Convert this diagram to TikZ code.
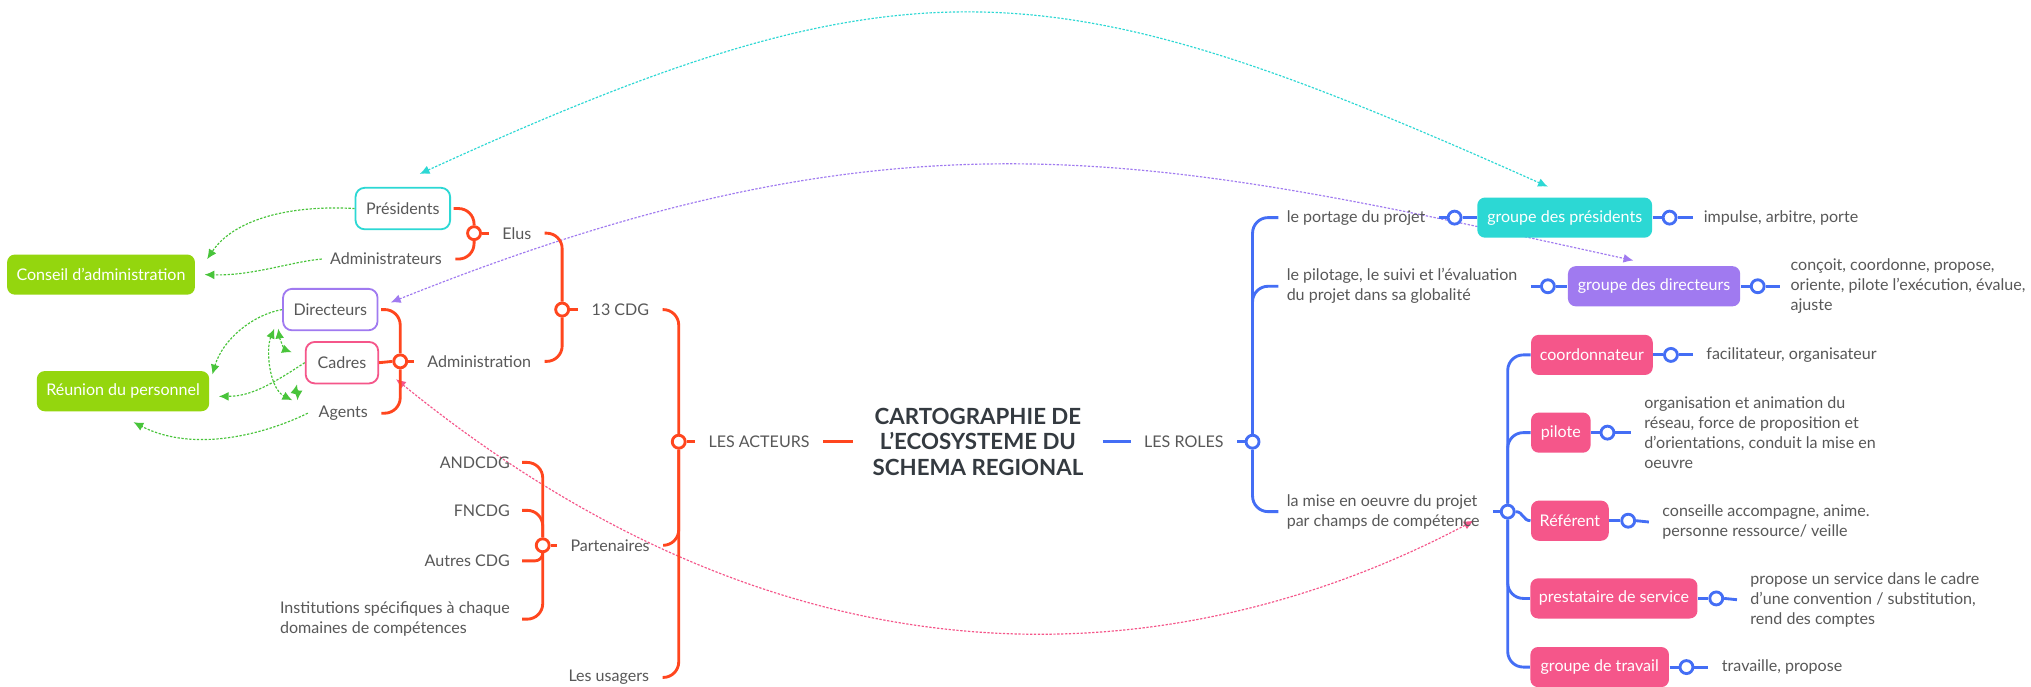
\documentclass[tikz,border=0pt]{standalone}
\usepackage{fontspec}
\setmainfont{Lato}
\usetikzlibrary{arrows.meta,backgrounds}

\definecolor{acteurs}{RGB}{255,70,30}
\definecolor{roles}{RGB}{68,110,245}
\definecolor{turquoise}{RGB}{44,216,212}
\definecolor{lavande}{RGB}{160,122,240}
\definecolor{framboise}{RGB}{245,86,138}
\definecolor{anis}{RGB}{148,214,14}
\definecolor{prairie}{RGB}{72,196,58}
\definecolor{gris}{RGB}{88,88,88}
\definecolor{ardoise}{RGB}{52,58,64}

\begin{document}
\begin{tikzpicture}[x=0.5pt, y=-0.5pt,
        lbl/.style={font=\fontsize{6.2}{7.75}\selectfont, text=gris, inner sep=1pt},
        lbls/.style={lbl, align=left},
        solidbox/.style={lbl, text=white, rounded corners=3pt, minimum height=15.5pt, inner xsep=0pt},
        outlinebox/.style={lbl, draw, fill=white, line width=0.7pt, rounded corners=3.5pt, minimum height=16pt, inner xsep=0pt},
        knob/.style={circle, draw, fill=white, line width=1.1pt, inner sep=0pt, minimum size=5pt},
        branch/.style={line width=1.1pt, rounded corners=6pt},
        rel/.style={line width=0.45pt, dash pattern=on 0.9pt off 0.6pt},
        >={Latex[length=3.8pt,width=3.4pt]},
    ]
    \path[use as bounding box] (0,0) rectangle (1568,530);

    \node[font=\bfseries\fontsize{8.6}{9.75}\selectfont, text=ardoise, align=center] (titre) at (755,341) {CARTOGRAPHIE DE\\L'ECOSYSTEME DU\\SCHEMA REGIONAL};

    % les acteurs
    \node[lbl] (acteurs) at (586,341) {LES ACTEURS};
    \node[knob, draw=acteurs] (kActeurs) at (524,341) {};
    \node[lbl] (cdg) at (479,239) {13 CDG};
    \node[knob, draw=acteurs] (kCdg) at (434,239) {};
    \node[lbl] (elus) at (399,180) {Elus};
    \node[knob, draw=acteurs] (kElus) at (366,180) {};
    \node[outlinebox, draw=turquoise, minimum width=36.5pt] (presidents) at (311,161) {Présidents};
    \node[lbl] (administrateurs) at (298,200) {Administrateurs};
    \node[lbl] (administration) at (370,279) {Administration};
    \node[knob, draw=acteurs] (kAdm) at (309,279) {};
    \node[outlinebox, draw=lavande, minimum width=36.5pt] (directeurs) at (255,239) {Directeurs};
    \node[outlinebox, draw=framboise, minimum width=28pt] (cadres) at (264,280) {Cadres};
    \node[lbl] (agents) at (265,319) {Agents};
    \node[solidbox, fill=anis, minimum width=72.5pt] (conseil) at (78,212) {Conseil d'administration};
    \node[solidbox, fill=anis, minimum width=66.5pt] (reunion) at (95,302) {Réunion du personnel};
    \node[lbl] (partenaires) at (471,421) {Partenaires};
    \node[knob, draw=acteurs] (kPart) at (419,421) {};
    \node[lbl, anchor=east] (andcdg) at (396,357) {ANDCDG};
    \node[lbl, anchor=east] (fncdg) at (396,394) {FNCDG};
    \node[lbl, anchor=east] (autres) at (396,433) {Autres CDG};
    \node[lbls, anchor=east] (institutions) at (396,478) {Institutions spécifiques à chaque\\domaines de compétences};
    \node[lbl] (usagers) at (470,523) {Les usagers};

    % les roles
    \node[lbl] (roles) at (914,341) {LES ROLES};
    \node[knob, draw=roles] (kRoles) at (967,341) {};
    \node[lbl, anchor=west] (portage) at (991,168) {le portage du projet};
    \node[knob, draw=roles] (kPortage) at (1123,168) {};
    \node[solidbox, fill=turquoise, minimum width=67.5pt] (grPres) at (1208,168) {groupe des présidents};
    \node[knob, draw=roles] (kGrPres) at (1289,168) {};
    \node[lbl, anchor=west] (impulse) at (1313,168) {impulse, arbitre, porte};
    \node[lbls, anchor=west] (pilotage) at (991,221) {le pilotage, le suivi et l'évaluation\\du projet dans sa globalité};
    \node[knob, draw=roles] (kPilotage) at (1195,221) {};
    \node[solidbox, fill=lavande, minimum width=66.5pt] (grDir) at (1277,221) {groupe des directeurs};
    \node[knob, draw=roles] (kGrDir) at (1357,221) {};
    \node[lbls, anchor=west] (concoit) at (1380,221) {conçoit, coordonne, propose,\\oriente, pilote l'exécution, évalue,\\ajuste};
    \node[lbls, anchor=west] (mise) at (991,395) {la mise en oeuvre du projet\\par champs de compétence};
    \node[knob, draw=roles] (kMise) at (1164,395) {};
    \node[solidbox, fill=framboise, minimum width=47pt] (coord) at (1229,274) {coordonnateur};
    \node[knob, draw=roles] (kCoord) at (1290,274) {};
    \node[lbl, anchor=west] (facil) at (1315,274) {facilitateur, organisateur};
    \node[solidbox, fill=framboise, minimum width=23pt] (pilote) at (1205,334) {pilote};
    \node[knob, draw=roles] (kPilote) at (1241,334) {};
    \node[lbls, anchor=west] (orga) at (1267,334) {organisation et animation du\\réseau, force de proposition et\\d'orientations, conduit la mise en\\oeuvre};
    \node[solidbox, fill=framboise, minimum width=30pt] (referent) at (1212,402) {Référent};
    \node[knob, draw=roles] (kRef) at (1257,402) {};
    \node[lbls, anchor=west] (conseille) at (1281,403) {conseille accompagne, anime.\\personne ressource/ veille};
    \node[solidbox, fill=framboise, minimum width=64.5pt] (presta) at (1246,462) {prestataire de service};
    \node[knob, draw=roles] (kPresta) at (1325,462) {};
    \node[lbls, anchor=west] (propose) at (1349,463) {propose un service dans le cadre\\d'une convention / substitution,\\rend des comptes};
    \node[solidbox, fill=framboise, minimum width=53.5pt] (grTrav) at (1235,515) {groupe de travail};
    \node[knob, draw=roles] (kTrav) at (1302,515) {};
    \node[lbl, anchor=west] (travaille) at (1327,515) {travaille, propose};

    \draw[branch, acteurs] ([xshift=4pt]acteurs.east) -- ([xshift=-4pt]titre.west);
    \draw[branch, acteurs] (kActeurs.east) -- ([xshift=-4pt]acteurs.west);
    \draw[branch, acteurs] (kActeurs.north) |- ([xshift=4pt]cdg.east);
    \draw[branch, acteurs] (kActeurs.south) |- ([xshift=4pt]partenaires.east);
    \draw[branch, acteurs] (kActeurs.south) |- ([xshift=4pt]usagers.east);
    \draw[branch, acteurs] (kCdg.east) -- ([xshift=-4pt]cdg.west);
    \draw[branch, acteurs] (kCdg.north) |- ([xshift=4pt]elus.east);
    \draw[branch, acteurs] (kCdg.south) |- ([xshift=4pt]administration.east);
    \draw[branch, acteurs] (kElus.east) -- ([xshift=-4pt]elus.west);
    \draw[branch, acteurs] (kElus.north) |- ([xshift=1pt]presidents.east);
    \draw[branch, acteurs] (kElus.south) |- ([xshift=4pt]administrateurs.east);
    \draw[branch, acteurs] (kAdm.east) -- ([xshift=-4pt]administration.west);
    \draw[branch, acteurs] (kAdm.north) |- ([xshift=1pt]directeurs.east);
    \draw[branch, acteurs] (kAdm.west) -- (cadres.east);
    \draw[branch, acteurs] (kAdm.south) |- ([xshift=4pt]agents.east);
    \draw[branch, acteurs] (kPart.east) -- ([xshift=-4pt]partenaires.west);
    \foreach \n in {andcdg,fncdg}
        \draw[branch, acteurs] (kPart.north) |- ([xshift=3.5pt]\n.east);
    \draw[branch, acteurs, rounded corners=3pt] (kPart.south) |- ([xshift=3.5pt]autres.east);
    \draw[branch, acteurs] (kPart.south) |- ([xshift=3.5pt]institutions.east);

    \draw[branch, roles] ([xshift=4pt]titre.east) -- ([xshift=-4pt]roles.west);
    \draw[branch, roles] ([xshift=4pt]roles.east) -- (kRoles.west);
    \draw[branch, roles] (kRoles.north) |- ([xshift=-2pt]portage.west);
    \draw[branch, roles] (kRoles.north) |- ([xshift=-2pt]pilotage.west);
    \draw[branch, roles] (kRoles.south) |- ([xshift=-2pt]mise.west);
    \draw[branch, roles] ([xshift=4pt]portage.east) -- (kPortage.west);
    \draw[branch, roles] (kPortage.east) -- (grPres.west);
    \draw[branch, roles] (grPres.east) -- (kGrPres.west);
    \draw[branch, roles] (kGrPres.east) -- ([xshift=-3pt]impulse.west);
    \draw[branch, roles] ([xshift=4pt]pilotage.east) -- (kPilotage.west);
    \draw[branch, roles] (kPilotage.east) -- (grDir.west);
    \draw[branch, roles] (grDir.east) -- (kGrDir.west);
    \draw[branch, roles] (kGrDir.east) -- ([xshift=-3pt]concoit.west);
    \draw[branch, roles] ([xshift=4pt]mise.east) -- (kMise.west);
    \foreach \b in {coord,pilote}
        \draw[branch, roles] (kMise.north) |- (\b.west);
    \foreach \b in {presta,grTrav}
        \draw[branch, roles] (kMise.south) |- (\b.west);
    \draw[branch, roles] (kMise.east) .. controls +(6,0) and +(-6,0) .. (referent.west);
    \foreach \b/\k/\t in {coord/kCoord/facil, pilote/kPilote/orga, referent/kRef/conseille, presta/kPresta/propose, grTrav/kTrav/travaille} {
        \draw[branch, roles] (\b.east) -- (\k.west);
        \draw[branch, roles] (\k.east) -- ([xshift=-4pt]\t.west);
    }

    \begin{scope}[on background layer]
        \fill[white] (0,0) rectangle (1568,530);
        \draw[rel, turquoise, <->] ([xshift=6.5pt,yshift=5pt]presidents.north) .. controls (705,-40) and (814,-26) .. ([xshift=-6.5pt,yshift=4pt]grPres.north);
        \draw[rel, lavande, <->] ([xshift=4.75pt,yshift=2.75pt]directeurs.east) .. controls (700,74) and (891,120) .. ([xshift=-8pt,yshift=2pt]grDir.north);
        \draw[rel, framboise, <->] ([xshift=6.5pt,yshift=2pt]cadres.south east) .. controls (653,575) and (960,496) .. ([xshift=-3.5pt,yshift=-3.5pt]mise.east);
        \draw[rel, prairie, ->] (presidents.west) .. controls (222,158) and (180,170) .. ([xshift=4.5pt,yshift=-2pt]conseil.north east);
        \draw[rel, prairie, ->] ([xshift=-2pt]administrateurs.west) .. controls (225,202) and (195,213) .. ([xshift=3.5pt]conseil.east);
        \draw[rel, prairie, ->] (directeurs.west) .. controls (195,243) and (172,262) .. ([xshift=1pt,yshift=-1.5pt]reunion.north east);
        \draw[rel, prairie, ->] (cadres.west) .. controls (212,295) and (195,306) .. ([xshift=3.5pt,yshift=-2pt]reunion.east);
        \draw[rel, prairie, ->] ([xshift=-3pt]agents.west) .. controls (205,335) and (150,350) .. ([xshift=4pt,yshift=-4pt]reunion.south);
        \draw[rel, prairie, <->] ([xshift=-1.5pt,yshift=1pt]directeurs.south west) .. controls (216,262) and (220,270) .. ([xshift=-5pt,yshift=4pt]cadres.west);
        \draw[rel, prairie, <->] ([xshift=-3pt,yshift=1pt]directeurs.south west) .. controls (205,270) and (208,300) .. ([xshift=-9pt,yshift=1pt]agents.north west);
        \draw[rel, prairie, <->] ([xshift=-3pt]cadres.south west) .. controls (229,298) and (230,303) .. ([xshift=-7pt,yshift=1pt]agents.north west);
    \end{scope}
\end{tikzpicture}
\end{document}
